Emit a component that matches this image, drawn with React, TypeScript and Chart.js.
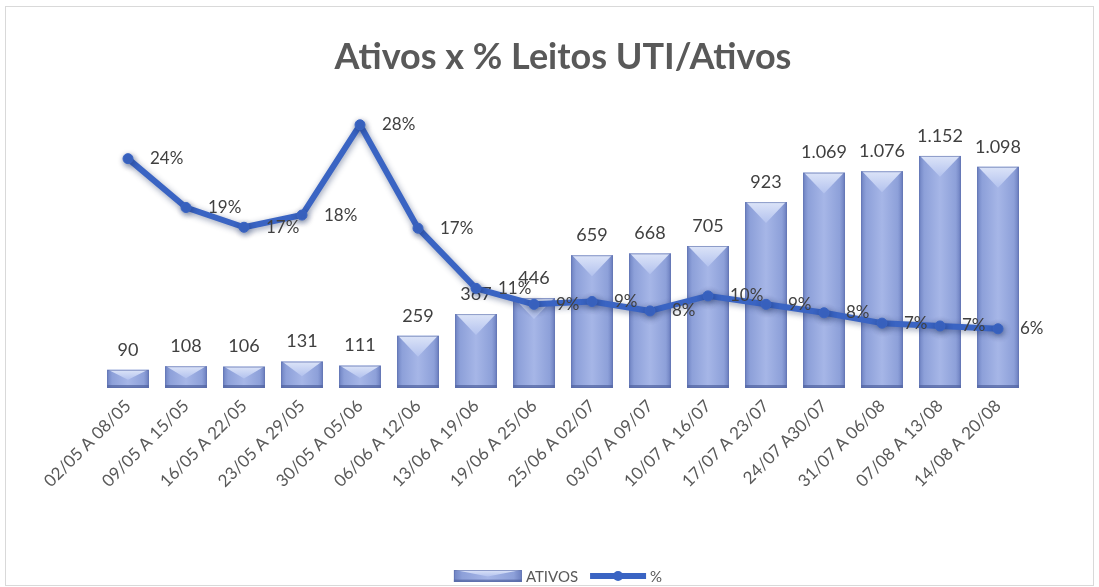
import React, { useEffect, useRef } from "react";
import { Chart, registerables } from "chart.js";

Chart.register(...registerables);

const TITLE = "Ativos x % Leitos UTI/Ativos";
const categories = [
  "02/05 A 08/05",
  "09/05 A 15/05",
  "16/05 A 22/05",
  "23/05 A 29/05",
  "30/05 A 05/06",
  "06/06 A 12/06",
  "13/06 A 19/06",
  "19/06 A 25/06",
  "25/06 A 02/07",
  "03/07 A 09/07",
  "10/07 A 16/07",
  "17/07 A 23/07",
  "24/07 A30/07",
  "31/07 A 06/08",
  "07/08 A 13/08",
  "14/08 A 20/08",
];
const ativos = [90, 108, 106, 131, 111, 259, 367, 446, 659, 668, 705, 923, 1069, 1076, 1152, 1098];
const percentual = [0.244, 0.192, 0.171, 0.184, 0.28, 0.17, 0.106, 0.089, 0.092, 0.082, 0.098, 0.089, 0.08, 0.069, 0.066, 0.063];
const barLabel = "ATIVOS";
const lineLabel = "%";

const FONT = "Lato, 'Open Sans', sans-serif";
const LINE_COLOR = "#3A64C3";
const BAR_COLOR = "#98AADF";

const fmtThousands = (v: number) => String(v).replace(/\B(?=(\d{3})+(?!\d))/g, ".");
const fmtPct = (v: number) => Math.round(v * 100) + "%";

function paintBar(ctx: CanvasRenderingContext2D, x: number, top: number, base: number, w: number) {
  const left = x - w / 2;
  const right = x + w / 2;
  const h = base - top;
  if (h <= 0) return;
  const g = ctx.createLinearGradient(left, 0, right, 0);
  g.addColorStop(0, "#6F83C3");
  g.addColorStop(0.12, "#8DA0D9");
  g.addColorStop(0.5, "#A6B6E7");
  g.addColorStop(0.88, "#8DA0D9");
  g.addColorStop(1, "#6C7FBF");
  ctx.fillStyle = g;
  ctx.fillRect(left, top, w, h);
  const d = Math.min(w / 2, h * 0.55);
  const tg = ctx.createLinearGradient(0, top, 0, top + d);
  tg.addColorStop(0, "#DCE4F8");
  tg.addColorStop(1, "#B3C2EE");
  ctx.fillStyle = tg;
  ctx.beginPath();
  ctx.moveTo(left + 1, top);
  ctx.lineTo(right - 1, top);
  ctx.lineTo(x, top + d);
  ctx.closePath();
  ctx.fill();
  const bh = Math.min(3, h * 0.2);
  ctx.fillStyle = "rgba(80,98,160,0.7)";
  ctx.fillRect(left, base - bh, w, bh);
  ctx.strokeStyle = "rgba(90,108,170,0.6)";
  ctx.lineWidth = 1;
  ctx.strokeRect(left + 0.5, top + 0.5, w - 1, h - 1);
}

const chartPlugin = {
  id: "excelLook",
  beforeDatasetDraw(chart: any, args: any) {
    const ds = chart.data.datasets[args.index];
    if (ds.type === "line") {
      const ctx = chart.ctx;
      ctx.save();
      ctx.shadowColor = "rgba(20,40,90,0.45)";
      ctx.shadowBlur = 6;
      ctx.shadowOffsetX = 1;
      ctx.shadowOffsetY = 2;
    }
  },
  afterDatasetDraw(chart: any, args: any) {
    const ds = chart.data.datasets[args.index];
    const ctx = chart.ctx;
    if (ds.type === "line") {
      ctx.restore();
      return;
    }
    const meta = chart.getDatasetMeta(args.index);
    ctx.save();
    meta.data.forEach((el: any) => {
      paintBar(ctx, el.x, el.y, el.base, el.width);
    });
    ctx.fillStyle = "#404040";
    ctx.font = `18px ${FONT}`;
    ctx.textAlign = "center";
    ctx.textBaseline = "middle";
    meta.data.forEach((el: any, i: number) => {
      ctx.fillText(fmtThousands(ds.data[i]), el.x, el.y - 20);
    });
    ctx.restore();
  },
  afterDatasetsDraw(chart: any) {
    const ctx = chart.ctx;
    const idx = chart.data.datasets.findIndex((d: any) => d.type === "line");
    const meta = chart.getDatasetMeta(idx);
    const ds = chart.data.datasets[idx];
    ctx.save();
    ctx.fillStyle = "#404040";
    ctx.font = `17px ${FONT}`;
    ctx.textAlign = "left";
    ctx.textBaseline = "middle";
    meta.data.forEach((el: any, i: number) => {
      ctx.fillText(fmtPct(ds.data[i]), el.x + 22, el.y);
    });
    ctx.restore();
  },
  afterDraw(chart: any) {
    const ctx = chart.ctx;
    ctx.save();
    ctx.font = `15px ${FONT}`;
    ctx.textBaseline = "middle";
    ctx.fillStyle = "#595959";
    const sw1 = 68;
    const sw2 = 56;
    const gap1 = 4;
    const gap2 = 12;
    const t1 = ctx.measureText(barLabel).width;
    const t2 = ctx.measureText(lineLabel).width;
    const total = sw1 + gap1 + t1 + gap2 + sw2 + gap1 + t2;
    const cx = 558;
    const cy = 576;
    let x = cx - total / 2;
    paintBar(ctx, x + sw1 / 2, cy - 6, cy + 6, sw1);
    x += sw1 + gap1;
    ctx.fillStyle = "#595959";
    ctx.textAlign = "left";
    ctx.fillText(barLabel, x, cy + 1);
    x += t1 + gap2;
    ctx.strokeStyle = LINE_COLOR;
    ctx.lineWidth = 6;
    ctx.beginPath();
    ctx.moveTo(x, cy);
    ctx.lineTo(x + sw2, cy);
    ctx.stroke();
    ctx.fillStyle = LINE_COLOR;
    ctx.beginPath();
    ctx.arc(x + sw2 / 2, cy, 5, 0, Math.PI * 2);
    ctx.fill();
    x += sw2 + gap1;
    ctx.fillStyle = "#595959";
    ctx.fillText(lineLabel, x, cy + 1);
    ctx.restore();
  },
};

export default function App() {
  const ref = useRef<HTMLCanvasElement | null>(null);
  useEffect(() => {
    document.body.style.margin = "0";
    const canvas = ref.current;
    if (!canvas) return;
    const chart = new Chart(canvas, {
      type: "bar",
      data: {
        labels: categories,
        datasets: [
          {
            type: "bar",
            label: barLabel,
            data: ativos,
            yAxisID: "y",
            backgroundColor: BAR_COLOR,
            barPercentage: 0.72,
            categoryPercentage: 1,
            order: 1,
          } as any,
          {
            type: "line",
            label: lineLabel,
            data: percentual,
            yAxisID: "y1",
            borderColor: LINE_COLOR,
            backgroundColor: LINE_COLOR,
            borderWidth: 6,
            pointRadius: 5,
            pointBackgroundColor: LINE_COLOR,
            pointBorderColor: LINE_COLOR,
            pointBorderWidth: 1,
            tension: 0,
            borderJoinStyle: "round",
            borderCapStyle: "round",
            order: 0,
            clip: false,
          } as any,
        ],
      },
      options: {
        responsive: false,
        animation: false,
        devicePixelRatio: 1,
        layout: { padding: { left: 99, right: 72, top: 0, bottom: 0 } },
        scales: {
          x: {
            grid: { display: false },
            border: { display: false },
            ticks: {
              color: "#595959",
              font: { family: FONT, size: 17 },
              minRotation: 45,
              maxRotation: 45,
              autoSkip: false,
              padding: 0,
            },
            afterFit: (s: any) => {
              s.height = 199;
            },
          },
          y: { display: false, min: 0, max: 1400 },
          y1: { display: false, min: 0, max: 0.3, position: "right" },
        },
        plugins: {
          legend: { display: false },
          tooltip: { enabled: false },
          title: {
            display: true,
            text: TITLE,
            color: "#595959",
            font: { family: FONT, size: 36, weight: "bold", lineHeight: 1 },
            padding: { top: 39, bottom: 31 },
          } as any,
        },
      },
      plugins: [chartPlugin],
    });
    return () => chart.destroy();
  }, []);
  return (
    <div style={{ position: "absolute", left: 0, top: 0, width: 1099, height: 587, background: "#fff" }}>
      <div
        style={{
          position: "absolute",
          left: 5,
          top: 6,
          width: 1089,
          height: 580,
          border: "1px solid #D9D9D9",
          boxSizing: "border-box",
        }}
      />
      <canvas ref={ref} width={1099} height={587} style={{ position: "absolute", left: 0, top: 0 }} />
    </div>
  );
}
